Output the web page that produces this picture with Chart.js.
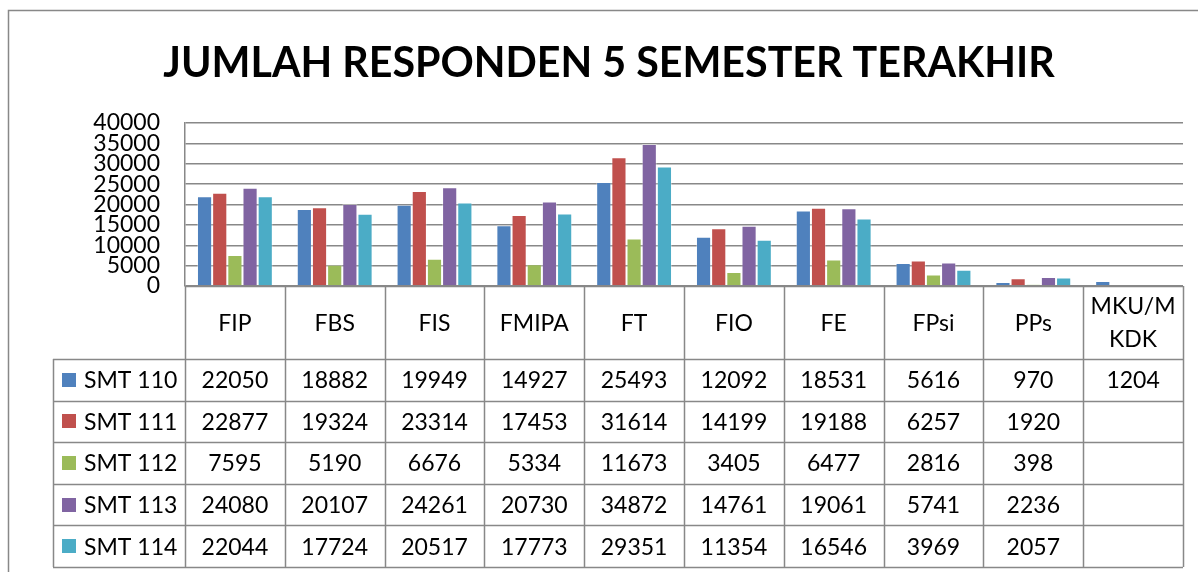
<!DOCTYPE html>
<html>
<head>
<meta charset="utf-8">
<script src="https://cdn.jsdelivr.net/npm/chart.js@4.4.1/dist/chart.umd.min.js"></script>
<style>
  html, body { margin: 0; padding: 0; background: #fff; }
  canvas { display: block; }
</style>
</head>
<body>
<canvas id="chart" width="1198" height="572"></canvas>
<script>
// Data
const categories = ["FIP", "FBS", "FIS", "FMIPA", "FT", "FIO", "FE", "FPsi", "PPs", "MKU/MKDK"];
const categoryLines = [["FIP"], ["FBS"], ["FIS"], ["FMIPA"], ["FT"], ["FIO"], ["FE"], ["FPsi"], ["PPs"], ["MKU/M", "KDK"]];
const seriesNames = ["SMT 110", "SMT 111", "SMT 112", "SMT 113", "SMT 114"];
const smt110 = [22050, 18882, 19949, 14927, 25493, 12092, 18531, 5616, 970, 1204];
const smt111 = [22877, 19324, 23314, 17453, 31614, 14199, 19188, 6257, 1920, null];
const smt112 = [7595, 5190, 6676, 5334, 11673, 3405, 6477, 2816, 398, null];
const smt113 = [24080, 20107, 24261, 20730, 34872, 14761, 19061, 5741, 2236, null];
const smt114 = [22044, 17724, 20517, 17773, 29351, 11354, 16546, 3969, 2057, null];
const yTicks = [0, 5000, 10000, 15000, 20000, 25000, 30000, 35000, 40000];

const seriesValues = [smt110, smt111, smt112, smt113, smt114];
const colors = ["#4F81BD", "#C0504D", "#9BBB59", "#8064A2", "#4BACC6"];
const lineColor = "#888888";
const fontFamily = "Lato, 'Open Sans', sans-serif";
const titleText = "JUMLAH RESPONDEN 5 SEMESTER TERAKHIR";

// Judul dan bingkai luar
const titlePlugin = {
  id: "titlePlugin",
  afterDraw(chart) {
    const ctx = chart.ctx;
    ctx.save();
    // bingkai luar (kiri dan atas)
    ctx.strokeStyle = lineColor;
    ctx.lineWidth = 1.5;
    ctx.beginPath();
    ctx.moveTo(8.5, chart.height);
    ctx.lineTo(8.5, 10.5);
    ctx.lineTo(chart.width, 10.5);
    ctx.stroke();

    // ukuran font disesuaikan dengan lebar judul
    ctx.font = "bold 40px " + fontFamily;
    const w = ctx.measureText(titleText).width;
    const size = Math.min(48, 40 * 892 / w);
    ctx.font = "bold " + size.toFixed(1) + "px " + fontFamily;
    ctx.fillStyle = "#000";
    ctx.textAlign = "center";
    ctx.textBaseline = "alphabetic";
    ctx.fillText(titleText, 609, 77);
    ctx.restore();
  },
};

// Tabel data di bawah grafik
const tablePlugin = {
  id: "tablePlugin",
  afterDraw(chart) {
    const ctx = chart.ctx;
    const area = chart.chartArea;
    const xScale = chart.scales.x;
    const n = categories.length;
    const colW = (area.right - area.left) / n;
    const top = area.bottom;
    const headerBottom = 359;
    const rowH = (567 - headerBottom) / seriesNames.length;
    const tableLeft = 53;
    const bottom = headerBottom + rowH * seriesNames.length;

    ctx.save();
    ctx.strokeStyle = lineColor;
    ctx.lineWidth = 1.5;
    ctx.beginPath();
    // garis vertikal kolom
    for (let i = 0; i <= n; i++) {
      const x = Math.round(area.left + colW * i) + 0.5;
      ctx.moveTo(x, top);
      ctx.lineTo(x, bottom);
    }
    // garis horizontal
    ctx.moveTo(area.left, top + 0.5);
    ctx.lineTo(area.right, top + 0.5);
    for (let r = 0; r <= seriesNames.length; r++) {
      const y = Math.round(headerBottom + rowH * r) + 0.5;
      ctx.moveTo(tableLeft, y);
      ctx.lineTo(area.right, y);
    }
    ctx.moveTo(tableLeft + 0.5, headerBottom);
    ctx.lineTo(tableLeft + 0.5, bottom);
    ctx.stroke();

    ctx.fillStyle = "#000";
    ctx.font = "23px " + fontFamily;
    ctx.textAlign = "center";
    ctx.textBaseline = "middle";

    // judul kolom
    categoryLines.forEach((lines, i) => {
      const cx = xScale.getPixelForValue(i);
      const cy = (top + headerBottom) / 2 + 1;
      const lh = 33;
      lines.forEach((t, k) => {
        ctx.fillText(t, cx, cy + (k - (lines.length - 1) / 2) * lh);
      });
    });

    // baris seri
    seriesNames.forEach((name, r) => {
      const cy = headerBottom + rowH * (r + 0.5) + 1;
      ctx.fillStyle = colors[r];
      ctx.fillRect(62, Math.round(cy - 8), 14, 14);
      ctx.fillStyle = "#000";
      ctx.textAlign = "left";
      ctx.fillText(name, 84, cy);
      ctx.textAlign = "center";
      seriesValues[r].forEach((v, i) => {
        if (v === null) return;
        ctx.fillText(String(v), xScale.getPixelForValue(i), cy);
      });
    });
    ctx.restore();
  },
};

const datasets = seriesNames.map((name, i) => ({
  label: name,
  data: seriesValues[i],
  backgroundColor: colors[i],
  borderColor: "rgba(255,255,255,0.35)",
  borderWidth: 1,
  categoryPercentage: 0.76,
  barPercentage: 1.0,
}));

const config = {
  type: "bar",
  data: { labels: categories, datasets: datasets },
  options: {
    responsive: false,
    devicePixelRatio: 1,
    animation: false,
    layout: { padding: { left: 0, top: 123, right: 15, bottom: 286 } },
    plugins: {
      legend: { display: false },
      title: { display: false },
      tooltip: { enabled: false },
    },
    scales: {
      x: { display: false },
      y: {
        min: 0,
        max: 40000,
        afterFit(scale) { scale.width = 185; },
        afterBuildTicks(scale) { scale.ticks = yTicks.map((v) => ({ value: v })); },
        grid: { color: lineColor, lineWidth: 1.5, drawTicks: false },
        border: { display: true, color: lineColor, width: 1.5 },
        ticks: {
          autoSkip: false,
          padding: 25,
          color: "#000",
          font: { family: fontFamily, size: 23, lineHeight: 0.9 },
          callback: (v) => String(v),
        },
      },
    },
  },
  plugins: [titlePlugin, tablePlugin],
};

new Chart(document.getElementById("chart"), config);
</script>
</body>
</html>
